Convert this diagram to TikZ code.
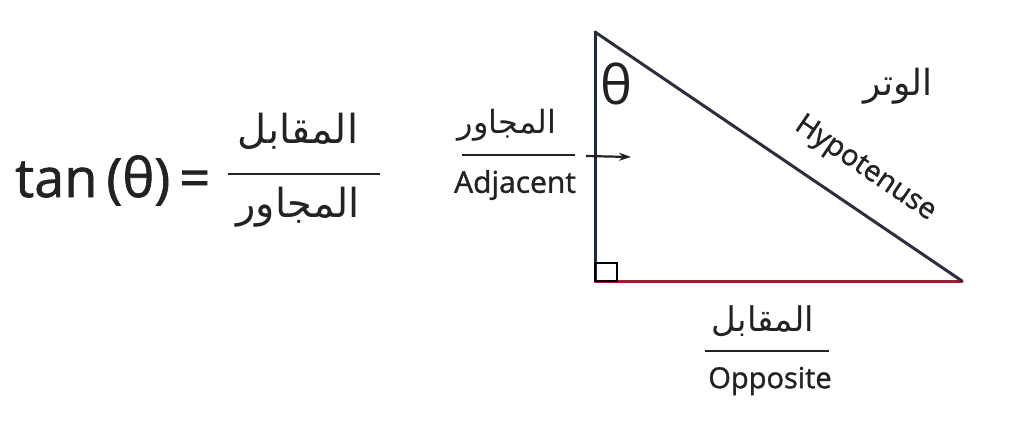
\documentclass[tikz,border=0pt]{standalone}
\usepackage{fontspec}
\setmainfont{Open Sans}
\newfontfamily\enfont[FakeBold=1.2]{Open Sans}
\newfontfamily\arabicfont[Script=Arabic]{DejaVu Sans}
\TeXXeTstate=1
\usetikzlibrary{arrows.meta}
\definecolor{hyp}{HTML}{2B2F3D}
\definecolor{adj}{HTML}{1F2740}
\definecolor{opp}{HTML}{9E1B32}
\definecolor{ink}{HTML}{222222}
\tikzset{
  ar/.style={text=ink, inner sep=0pt},
  en/.style={text=ink, inner sep=0pt},
  fracline/.style={draw=ink, line width=1.2pt},
  side/.style={line width=3pt, line cap=round, line join=round},
}
\newcommand{\arsz}[1]{\fontsize{#1}{#1}\arabicfont}
\newcommand{\ensz}[1]{\fontsize{#1}{#1}\enfont}
\begin{document}
\begin{tikzpicture}[x=1pt,y=-1pt]
\useasboundingbox (0,0) rectangle (1024,426);
% formula
\node[en, anchor=base west, font=\ensz{54}] (tan) at (15,197) {tan\,(θ)\,=};
\coordinate (f1) at (228,174);
\coordinate (f2) at (380,174);
\draw[fracline] (f1) -- (f2);
\node[ar, font=\arsz{40}] (fnum) at (298,131) {\beginR المقابل\endR};
\node[ar, font=\arsz{40}] (fden) at (298,207) {\beginR المجاور\endR};
% triangle
\coordinate (A) at (595,32);
\coordinate (B) at (595,281);
\coordinate (C) at (962,281);
\draw[side, draw=adj] (A) -- (B);
\draw[side, draw=opp] (B) -- (C);
\draw[side, draw=hyp] (C) -- (A);
\draw[black, line width=2pt] (595,263) rectangle (617,281);
\node[text=ink, inner sep=0pt, font=\fontsize{54}{54}\selectfont] (theta) at (616,84) {θ};
% hypotenuse labels
\node[ar, font=\arsz{36}] (harab) at (898,86) {\beginR الوتر\endR};
\node[en, font=\ensz{29}, rotate=-34.2] (heng) at (865,169) {Hypotenuse};
% adjacent labels
\node[ar, font=\arsz{32}] (aarab) at (507,125) {\beginR المجاور\endR};
\coordinate (a1) at (462,155);
\coordinate (a2) at (575,155);
\draw[fracline] (a1) -- (a2);
\node[en, font=\ensz{30}] (aeng) at (515,185) {Adjacent};
\coordinate (ar1) at (586,156);
\coordinate (ar2) at (631,157);
\draw[ink, line width=2.2pt, -{Stealth[length=12pt,width=8pt]}] (ar1) -- (ar2);
% opposite labels
\node[ar, font=\arsz{34}] (oarab) at (763,321) {\beginR المقابل\endR};
\coordinate (o1) at (705,351);
\coordinate (o2) at (829,351);
\draw[fracline] (o1) -- (o2);
\node[en, font=\ensz{29}] (oeng) at (770,381) {Opposite};
\end{tikzpicture}
\end{document}
